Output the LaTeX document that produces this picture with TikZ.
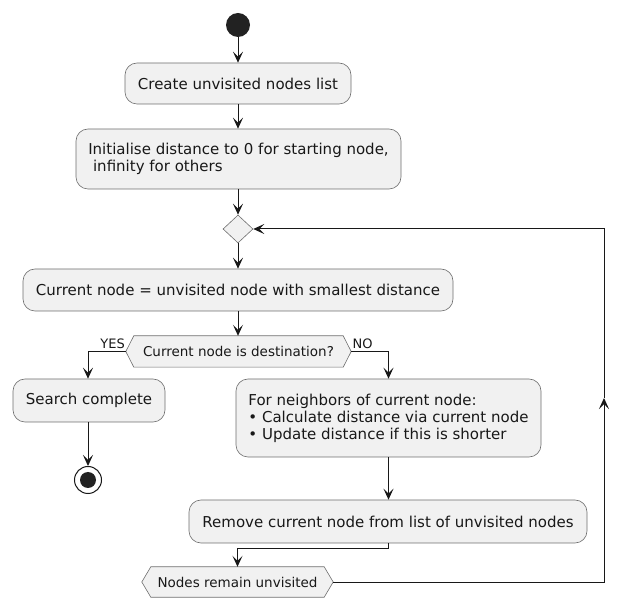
\documentclass[tikz,border=0pt]{standalone}
\usepackage{fontspec}
\setmainfont{DejaVu Sans}
\usetikzlibrary{arrows.meta,shapes.geometric,backgrounds}
\definecolor{boxfill}{HTML}{F1F1F1}
\definecolor{ink}{HTML}{181818}
\definecolor{rim}{HTML}{6E6E6E}
\definecolor{dotfill}{HTML}{222222}
\begin{document}
\begin{tikzpicture}[x=1pt,y=-1pt,
  act/.style={draw=rim, line width=0.6pt, fill=boxfill, rounded corners=12pt, inner sep=0pt,
    font=\fontsize{15}{17}\selectfont, text=ink},
  hexlabel/.style={inner sep=0pt, font=\fontsize{13.5}{16}\selectfont, text=ink},
  hexshape/.style={draw=rim, line width=0.6pt, fill=boxfill},
  flow/.style={draw=ink, line width=1pt, -{Stealth[length=11pt,width=10pt,inset=5pt]}},
  guard/.style={font=\fontsize{13}{15}\selectfont, inner sep=0pt, text=ink}]
\useasboundingbox (0,0) rectangle (619,609);
\node[circle, fill=dotfill, minimum size=24pt, inner sep=0pt] (start) at (238,25) {};
\node[act, minimum width=226pt, minimum height=41pt] (create) at (238,83.5) {Create unvisited nodes list};
\node[act, minimum width=325pt, minimum height=60pt, align=left] (init) at (238.5,159)
  {Initialise distance to 0 for starting node,\\\hspace*{4.8pt}infinity for others};
\node[diamond, draw=rim, line width=0.6pt, fill=boxfill, minimum width=30pt, minimum height=28pt, inner sep=0pt] (merge) at (238,229) {};
\node[act, minimum width=430pt, minimum height=42pt] (pick) at (238,290) {Current node = unvisited node with smallest distance};
\node[hexlabel, minimum width=225pt, minimum height=31pt] (dest) at (238.5,351.5) {Current node is destination?};
\node[act, minimum width=152pt, minimum height=43pt] (done) at (89,400.5) {Search complete};
\node[circle, draw=ink, line width=1pt, fill=white, minimum size=27pt, inner sep=0pt] (stop) at (88,480) {};
\node[circle, fill=dotfill, minimum size=16pt, inner sep=0pt] (stopdot) at (stop.center) {};
\node[act, minimum width=305pt, minimum height=78pt, align=left] (update) at (388.5,418)
  {For neighbors of current node:\\• Calculate distance via current node\\• Update distance if this is shorter};
\node[act, minimum width=398pt, minimum height=43pt] (remove) at (388,521.5) {Remove current node from list of unvisited nodes};
\node[hexlabel, minimum width=191pt, minimum height=30pt] (remain) at (237.5,582) {Nodes remain unvisited};
\begin{scope}[on background layer]
\draw[hexshape] (dest.west) -- ([xshift=8pt]dest.north west) -- ([xshift=-8pt]dest.north east) -- (dest.east)
  -- ([xshift=-8pt]dest.south east) -- ([xshift=8pt]dest.south west) -- cycle;
\draw[hexshape] (remain.west) -- ([xshift=9pt]remain.north west) -- ([xshift=-9pt]remain.north east) -- (remain.east)
  -- ([xshift=-9pt]remain.south east) -- ([xshift=9pt]remain.south west) -- cycle;
\end{scope}
\node[guard, anchor=base east] (yes) at (125,349) {YES};
\node[guard, anchor=base west] (no) at (352.5,349) {NO};
\coordinate (join) at (388,549);
\coordinate (loopbottom) at (604,582);
\coordinate (loopmid) at (604,398);
\coordinate (looptop) at (604,229);
\draw[flow] (start) -- (create);
\draw[flow] (create.south) -- (create.south |- init.north);
\draw[flow] (init.south -| merge) -- (merge.north);
\draw[flow] (merge) -- (pick);
\draw[flow] (pick.south) -- (pick.south |- dest.north);
\draw[flow] (dest.west) -| (stop |- done.north);
\draw[flow] (dest.east) -| (update.north);
\draw[flow] (done.south -| stop) -- (stop.north);
\draw[flow] (update.south) -- (update.south |- remove.north);
\draw[flow] (remove.south) -- (join) -| (remain.north);
\draw[flow] (remain.east) -- (loopbottom) -- (loopmid);
\draw[flow] (loopmid) -- (looptop) -- (merge.east);
\end{tikzpicture}
\end{document}
